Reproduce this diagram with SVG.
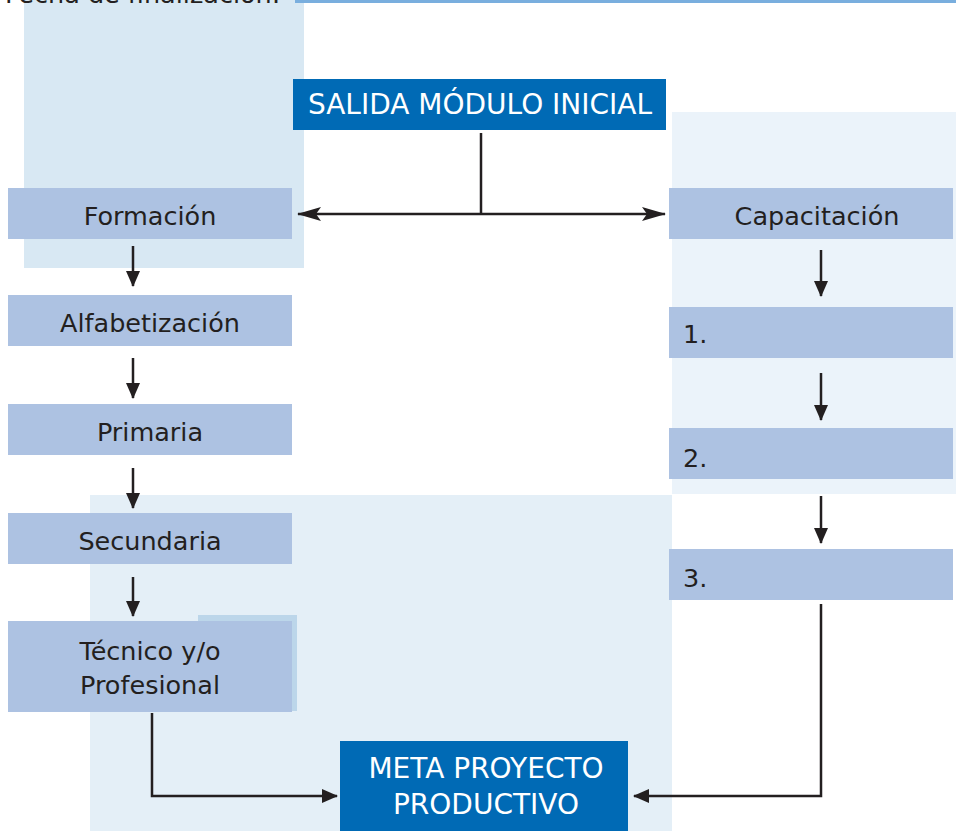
<svg xmlns="http://www.w3.org/2000/svg" width="956" height="831" viewBox="0 0 956 831">
<style>
.box{fill:#adc2e2}
.main{fill:#006ab5}
.t{font-family:"DejaVu Sans",sans-serif;font-size:25.5px;fill:#231f20}
.w{font-family:"DejaVu Sans",sans-serif;font-size:28px;fill:#ffffff}
.c{stroke:#231f20;stroke-width:2.5;fill:none}
</style>
<defs>
<marker id="ah" viewBox="0 0 14 16" refX="7" refY="15" markerWidth="14" markerHeight="16" markerUnits="userSpaceOnUse" orient="auto-start-reverse">
<path d="M0,0 L14,0 L7,16 z" fill="#231f20" transform="rotate(-90 7 8)"/>
</marker>
<marker id="ar" viewBox="0 0 16 14" refX="15" refY="7" markerWidth="16" markerHeight="14" markerUnits="userSpaceOnUse" orient="auto">
<path d="M0,0 L16,7 L0,14 z" fill="#231f20"/>
</marker>
<marker id="ahb" viewBox="0 0 24 14" refX="23" refY="7" markerWidth="24" markerHeight="14" markerUnits="userSpaceOnUse" orient="auto">
<path d="M0,0 L24,7 L0,14 L5,7 z" fill="#231f20"/>
</marker>
</defs>
<rect width="956" height="831" fill="#ffffff"/>
<g id="background">
<rect x="24" y="0" width="280" height="268" fill="#d8e8f3"/>
<rect x="672" y="112" width="284" height="382" fill="#ebf3fa"/>
<rect x="90" y="495" width="582" height="336" fill="#e4eff7"/>
<rect x="198" y="615" width="99" height="96" fill="#bcd6ea"/>
<rect x="295" y="0" width="661" height="3" fill="#79aede"/>
<text x="5" y="3" class="t" font-size="26">Fecha de finalización:</text>
</g>
<g id="salida">
<rect class="main" x="293" y="79" width="373" height="51"/>
<text class="w" x="480" y="114" text-anchor="middle">SALIDA MÓDULO INICIAL</text>
</g>
<g id="formacion">
<rect class="box" x="8" y="188" width="284" height="51"/>
<text class="t" x="150" y="225" text-anchor="middle">Formación</text>
</g>
<g id="alfabetizacion">
<rect class="box" x="8" y="295" width="284" height="51"/>
<text class="t" x="150" y="332" text-anchor="middle">Alfabetización</text>
</g>
<g id="primaria">
<rect class="box" x="8" y="404" width="284" height="51"/>
<text class="t" x="150" y="441" text-anchor="middle">Primaria</text>
</g>
<g id="secundaria">
<rect class="box" x="8" y="513" width="284" height="51"/>
<text class="t" x="150" y="550" text-anchor="middle">Secundaria</text>
</g>
<g id="tecnico">
<rect class="box" x="8" y="621" width="284" height="91"/>
<text class="t" x="150" y="660" text-anchor="middle">Técnico y/o</text>
<text class="t" x="150" y="694" text-anchor="middle">Profesional</text>
</g>
<g id="capacitacion">
<rect class="box" x="669" y="188" width="284" height="51"/>
<text class="t" x="817" y="225" text-anchor="middle">Capacitación</text>
</g>
<g id="paso1">
<rect class="box" x="669" y="307" width="284" height="51"/>
<text class="t" x="683" y="343">1.</text>
</g>
<g id="paso2">
<rect class="box" x="669" y="428" width="284" height="51"/>
<text class="t" x="683" y="467">2.</text>
</g>
<g id="paso3">
<rect class="box" x="669" y="549" width="284" height="51"/>
<text class="t" x="683" y="587">3.</text>
</g>
<g id="meta">
<rect class="main" x="340" y="741" width="288" height="90"/>
<text class="w" x="486" y="778" text-anchor="middle" font-size="25.5">META PROYECTO</text>
<text class="w" x="486" y="814" text-anchor="middle" font-size="25.5">PRODUCTIVO</text>
</g>
<g id="connectors">
<line class="c" x1="481" y1="133" x2="481" y2="214"/>
<line class="c" x1="481" y1="214" x2="298" y2="214" marker-end="url(#ahb)"/>
<line class="c" x1="481" y1="214" x2="665" y2="214" marker-end="url(#ahb)"/>
<line class="c" x1="133" y1="246" x2="133" y2="286" marker-end="url(#ar)"/>
<line class="c" x1="133" y1="358" x2="133" y2="398" marker-end="url(#ar)"/>
<line class="c" x1="133" y1="468" x2="133" y2="508" marker-end="url(#ar)"/>
<line class="c" x1="133" y1="577" x2="133" y2="616" marker-end="url(#ar)"/>
<line class="c" x1="821" y1="250" x2="821" y2="296" marker-end="url(#ar)"/>
<line class="c" x1="821" y1="373" x2="821" y2="420" marker-end="url(#ar)"/>
<line class="c" x1="821" y1="496" x2="821" y2="543" marker-end="url(#ar)"/>
<polyline class="c" points="152,713 152,796 337,796" marker-end="url(#ar)"/>
<polyline class="c" points="821,604 821,796 634,796" marker-end="url(#ar)"/>
</g>
</svg>
